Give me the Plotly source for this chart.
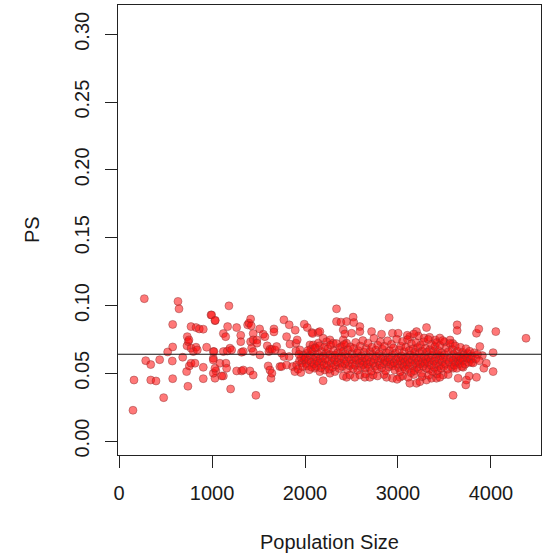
import plotly.graph_objects as go

# ---- sparse points (population < 1000) ----
pop_low = [150, 161, 272, 287, 341, 341, 398, 437, 480, 523, 573, 577, 577, 577, 634, 645, 685, 727, 731,
           734, 741, 745, 752, 756, 774, 774, 774, 799, 817, 828, 828, 842, 863, 906, 906, 906, 942, 989]
ps_low = [0.0227, 0.045, 0.105, 0.0593, 0.0564, 0.045, 0.0443, 0.060, 0.032, 0.0657, 0.059, 0.086, 0.0694,
          0.046, 0.103, 0.0975, 0.0618, 0.0512, 0.0702, 0.077, 0.0404, 0.0733, 0.0746, 0.0554, 0.0844, 0.0685,
          0.0574, 0.066, 0.0574, 0.0837, 0.0692, 0.0672, 0.0827, 0.0825, 0.0544, 0.046, 0.0692, 0.093]

# ---- 1000 - 2000 ----
pop_mid = [996, 1032, 1014, 1014, 1021, 1035, 1042, 1032, 1014, 1014, 1032, 1085, 1122, 1122, 1147, 1150, 1157,
           1122, 1104, 1164, 1168, 1182, 1193, 1200, 1211, 1265, 1265, 1309, 1309, 1318, 1318, 1336, 1336, 1383,
           1397, 1408, 1415, 1415, 1422, 1426, 1443, 1443, 1443, 1443, 1472, 1483, 1483, 1512, 1515, 1551, 1569,
           1594, 1604, 1612, 1623, 1623, 1634, 1644, 1644, 1666, 1666, 1677, 1695, 1730, 1748, 1748, 1773, 1773,
           1802, 1802, 1830, 1830, 1838, 1866, 1891, 1895, 1902, 1902, 1916, 1945, 1981, 1992,
           1910, 1925, 1940, 1955, 1965, 1975, 1990, 1960, 1935]
ps_mid = [0.093, 0.0888, 0.066, 0.0611, 0.066, 0.089, 0.0517, 0.0463, 0.0598, 0.050, 0.0537, 0.0574, 0.066,
          0.0793, 0.077, 0.0574, 0.0537, 0.048, 0.048, 0.0664, 0.0844, 0.0997, 0.0685, 0.0384, 0.0672, 0.0837,
          0.0517, 0.078, 0.0733, 0.0655, 0.0517, 0.066, 0.0524, 0.0857, 0.087, 0.0517, 0.090, 0.0733, 0.085,
          0.0685, 0.0793, 0.0746, 0.066, 0.0487, 0.0337, 0.0746, 0.0722, 0.0827, 0.0635, 0.0788, 0.077, 0.0702,
          0.0554, 0.066, 0.0677, 0.0524, 0.0463, 0.0677, 0.050, 0.0827, 0.0805, 0.0672, 0.0697, 0.0549, 0.0648,
          0.0549, 0.0894, 0.0623, 0.077, 0.0561, 0.0857, 0.0623, 0.0715, 0.0549, 0.0512, 0.0818, 0.0722, 0.0664,
          0.0746, 0.0672, 0.0635, 0.0862,
          0.0560, 0.0530, 0.0590, 0.0505, 0.0575, 0.0548, 0.0600, 0.0615, 0.0640]

# ---- outlying points 2000 - 4400 ----
pop_edge = [2024, 2024, 2053, 2063, 2074, 2082, 2088, 2106, 2117, 2142, 2142, 2160, 2160, 2195, 2195, 2214, 2232,
            2268, 2268, 2303, 2321, 2339, 2339, 2386, 2393, 2411, 2411, 2411, 2429, 2447, 2447, 2447, 2483, 2501,
            2518, 2525, 2536, 2590, 2590, 2590, 2644, 2697, 2716, 2733, 2823, 2877, 2905, 2940, 2940,
            3002, 3020, 3127, 3127, 3199, 3199, 3235, 3307, 3307, 3361, 3414, 3486, 3593, 3593, 3611, 3636, 3636,
            3647, 3665, 3700, 3700, 3729, 3736, 3754, 3765, 3790, 3844, 3844, 3869, 3880, 3907, 3923, 3950,
            4023, 4023, 4052, 4377,
            3220, 3280, 3340, 3400, 3450, 3500, 3560, 3590, 3170, 3100,
            3050, 3110, 3170, 3260, 3330, 3420, 3450, 3540, 2990, 2850, 2780, 2650]
ps_edge = [0.0837, 0.0648, 0.0709, 0.0677, 0.080, 0.0793, 0.0709, 0.0537, 0.0685, 0.080, 0.0722, 0.0807, 0.0512,
           0.0758, 0.0445, 0.0524, 0.0733, 0.0746, 0.050, 0.0722, 0.0512, 0.0975, 0.0881, 0.0877, 0.0697, 0.082,
           0.0746, 0.048, 0.079, 0.0881, 0.0722, 0.047, 0.0487, 0.0795, 0.0914, 0.0874, 0.047, 0.0844, 0.0807,
           0.0487, 0.047, 0.047, 0.0807, 0.0487, 0.0788, 0.047, 0.091, 0.0795, 0.0463,
           0.0795, 0.047, 0.077, 0.0426, 0.0807, 0.0426, 0.0438, 0.0837, 0.045, 0.0463, 0.0463, 0.0487, 0.0337,
           0.0537, 0.058, 0.0857, 0.0815, 0.0463, 0.0596, 0.0611, 0.0544, 0.0414, 0.045, 0.0611, 0.048, 0.058,
           0.0795, 0.047, 0.0827, 0.0697, 0.063, 0.0537, 0.0574,
           0.0652, 0.0512, 0.0807, 0.0758,
           0.0775, 0.0760, 0.0765, 0.0745, 0.0760, 0.0730, 0.0745, 0.0720, 0.0790, 0.0780,
           0.0480, 0.0470, 0.0490, 0.0475, 0.0485, 0.0495, 0.0470, 0.0490, 0.0455, 0.0490, 0.0480, 0.0495]

# ---- dense core 2000 - 3900 ----
pop_core = [2005, 2012, 2020, 2031, 2040, 2046, 2058, 2066, 2071, 2080, 2093, 2099, 2108, 2115, 2124, 2131, 2139,
            2150, 2156, 2163, 2172, 2180, 2188, 2197, 2205, 2211, 2220, 2228, 2236, 2245, 2251, 2260, 2266, 2275,
            2283, 2290, 2298, 2307, 2315, 2322, 2330, 2338, 2347, 2352, 2361, 2369, 2376, 2384, 2391, 2399, 2408,
            2415, 2423, 2430, 2438, 2446, 2455, 2462, 2470, 2477, 2486, 2493,
            2503, 2510, 2517, 2524, 2531, 2538, 2545, 2552, 2559, 2566, 2573, 2580, 2587, 2594, 2601, 2608, 2615,
            2622, 2629, 2636, 2643, 2650, 2657, 2664, 2671, 2678, 2685, 2692, 2699, 2706, 2713, 2720, 2727, 2734,
            2741, 2748, 2755, 2762, 2769, 2776, 2783, 2790, 2797, 2804, 2811, 2818, 2825, 2832, 2839, 2846, 2853,
            2860, 2867, 2874, 2881, 2888, 2895, 2902, 2909, 2916, 2923, 2930, 2937, 2944, 2951, 2958, 2965, 2972,
            2979, 2986, 2993,
            3001, 3007, 3013, 3019, 3025, 3031, 3037, 3043, 3049, 3055, 3061, 3067, 3073, 3079, 3085, 3091, 3097,
            3103, 3109, 3115, 3121, 3127, 3133, 3139, 3145, 3151, 3157, 3163, 3169, 3175, 3181, 3187, 3193, 3199,
            3205, 3211, 3217, 3223, 3229, 3235, 3241, 3247, 3253, 3259, 3265, 3271, 3277, 3283, 3289, 3295, 3301,
            3307, 3313, 3319, 3325, 3331, 3337, 3343, 3349, 3355, 3361, 3367, 3373, 3379, 3385, 3391, 3397, 3403,
            3409, 3415, 3421, 3427, 3433, 3439, 3445, 3451, 3457, 3463, 3469, 3475, 3481, 3487, 3493,
            3502, 3511, 3519, 3527, 3535, 3543, 3551, 3559, 3567, 3575, 3583, 3591, 3599, 3607, 3615, 3623, 3631,
            3639, 3647, 3655, 3663, 3671, 3679, 3687, 3695, 3703, 3712, 3721, 3730, 3740, 3750, 3760, 3771, 3783,
            3795, 3808, 3822, 3838, 3855, 3874]
ps_core = [0.0612, 0.0571, 0.0553, 0.0668, 0.0594, 0.0526, 0.0631, 0.0582, 0.0545, 0.0657, 0.0603, 0.0569, 0.0688,
           0.0621, 0.0550, 0.0590, 0.0643, 0.0575, 0.0702, 0.0608, 0.0539, 0.0661, 0.0585, 0.0627, 0.0562, 0.0694,
           0.0605, 0.0648, 0.0557, 0.0679, 0.0593, 0.0529, 0.0637, 0.0708, 0.0574, 0.0615, 0.0543, 0.0665, 0.0598,
           0.0634, 0.0560, 0.0719, 0.0581, 0.0652, 0.0611, 0.0535, 0.0689, 0.0574, 0.0627, 0.0550, 0.0661, 0.0604,
           0.0712, 0.0569, 0.0641, 0.0587, 0.0528, 0.0673, 0.0619, 0.0556, 0.0695, 0.0600,
           0.0642, 0.0571, 0.0533, 0.0684, 0.0615, 0.0558, 0.0727, 0.0596, 0.0649, 0.0522, 0.0667, 0.0609, 0.0575,
           0.0701, 0.0547, 0.0628, 0.0590, 0.0741, 0.0563, 0.0655, 0.0612, 0.0537, 0.0683, 0.0598, 0.0567, 0.0722,
           0.0621, 0.0544, 0.0660, 0.0583, 0.0515, 0.0692, 0.0637, 0.0575, 0.0758, 0.0603, 0.0551, 0.0671, 0.0626,
           0.0529, 0.0706, 0.0589, 0.0645, 0.0561, 0.0733, 0.0607, 0.0540, 0.0677, 0.0620, 0.0572, 0.0699, 0.0595,
           0.0518, 0.0651, 0.0582, 0.0739, 0.0610, 0.0546, 0.0666, 0.0601, 0.0566, 0.0714, 0.0631, 0.0553, 0.0687,
           0.0578, 0.0524, 0.0648, 0.0604, 0.0751, 0.0569,
           0.0616, 0.0540, 0.0672, 0.0593, 0.0511, 0.0700, 0.0628, 0.0565, 0.0735, 0.0607, 0.0548, 0.0659, 0.0585,
           0.0527, 0.0693, 0.0619, 0.0562, 0.0748, 0.0601, 0.0534, 0.0668, 0.0579, 0.0636, 0.0504, 0.0717, 0.0597,
           0.0556, 0.0681, 0.0623, 0.0518, 0.0655, 0.0574, 0.0726, 0.0610, 0.0545, 0.0689, 0.0592, 0.0531, 0.0647,
           0.0568, 0.0706, 0.0614, 0.0499, 0.0663, 0.0587, 0.0551, 0.0732, 0.0625, 0.0572, 0.0684, 0.0603, 0.0537,
           0.0656, 0.0580, 0.0749, 0.0617, 0.0528, 0.0674, 0.0595, 0.0559, 0.0712, 0.0633, 0.0512, 0.0661, 0.0589,
           0.0543, 0.0697, 0.0608, 0.0570, 0.0726, 0.0640, 0.0521, 0.0668, 0.0598, 0.0555, 0.0704, 0.0626, 0.0535,
           0.0652, 0.0583, 0.0741, 0.0611, 0.0549,
           0.0637, 0.0567, 0.0688, 0.0601, 0.0529, 0.0659, 0.0584, 0.0720, 0.0615, 0.0547, 0.0676, 0.0598, 0.0640,
           0.0559, 0.0702, 0.0620, 0.0536, 0.0663, 0.0589, 0.0628, 0.0571, 0.0691, 0.0608, 0.0550, 0.0654, 0.0594,
           0.0637, 0.0566, 0.0681, 0.0612, 0.0645, 0.0580, 0.0662, 0.0603, 0.0628, 0.0576, 0.0651, 0.0607, 0.0639,
           0.0592]

mean_ps = 0.064
x_ticks = [0, 1000, 2000, 3000, 4000]
y_ticks = [0.00, 0.05, 0.10, 0.15, 0.20, 0.25, 0.30]

pop = pop_low + pop_mid + pop_edge + pop_core
ps = ps_low + ps_mid + ps_edge + ps_core

FONT = "Liberation Sans, Arial, sans-serif"
TXT = "#1a1a1a"

fig = go.Figure()
fig.add_trace(go.Scatter(
    x=pop, y=ps, mode="markers",
    marker=dict(size=8, color="rgba(255,10,10,0.55)",
                line=dict(color="rgba(140,50,50,0.45)", width=1)),
    hoverinfo="skip", showlegend=False))

fig.add_shape(type="line", xref="paper", x0=0, x1=1, yref="y", y0=mean_ps, y1=mean_ps,
              line=dict(color="#111111", width=1.2))

fig.update_layout(
    width=551, height=555,
    margin=dict(l=118, r=10, t=5, b=100),
    paper_bgcolor="white", plot_bgcolor="white",
    font=dict(family=FONT, size=20, color=TXT),
    xaxis=dict(range=[-11, 4538], tickvals=x_ticks, ticktext=[str(v) for v in x_ticks],
               showgrid=False, zeroline=False, showline=True, mirror=True,
               linecolor="#222222", linewidth=1.2, ticks="outside", ticklen=12,
               tickcolor="#222222", tickwidth=1.2, ticklabelstandoff=8),
    yaxis=dict(range=[-0.0103, 0.3216], tickvals=y_ticks, ticktext=[f"{v:.2f}" for v in y_ticks],
               tickangle=-90, showgrid=False, zeroline=False, showline=True, mirror=True,
               linecolor="#222222", linewidth=1.2, ticks="outside", ticklen=12,
               tickcolor="#222222", tickwidth=1.2, ticklabelstandoff=8),
    annotations=[
        dict(text="Population Size", xref="paper", yref="paper", x=0.5, y=0,
             xanchor="center", yanchor="middle", yshift=-87, showarrow=False,
             font=dict(family=FONT, size=20, color=TXT)),
        dict(text="PS", xref="paper", yref="paper", x=0, y=0.5, textangle=-90,
             xanchor="center", yanchor="middle", xshift=-86, showarrow=False,
             font=dict(family=FONT, size=20, color=TXT)),
    ],
)

fig.write_html("out.html", config={"displayModeBar": False},
               post_script="document.body.style.margin='0px';document.body.style.overflow='hidden';")
